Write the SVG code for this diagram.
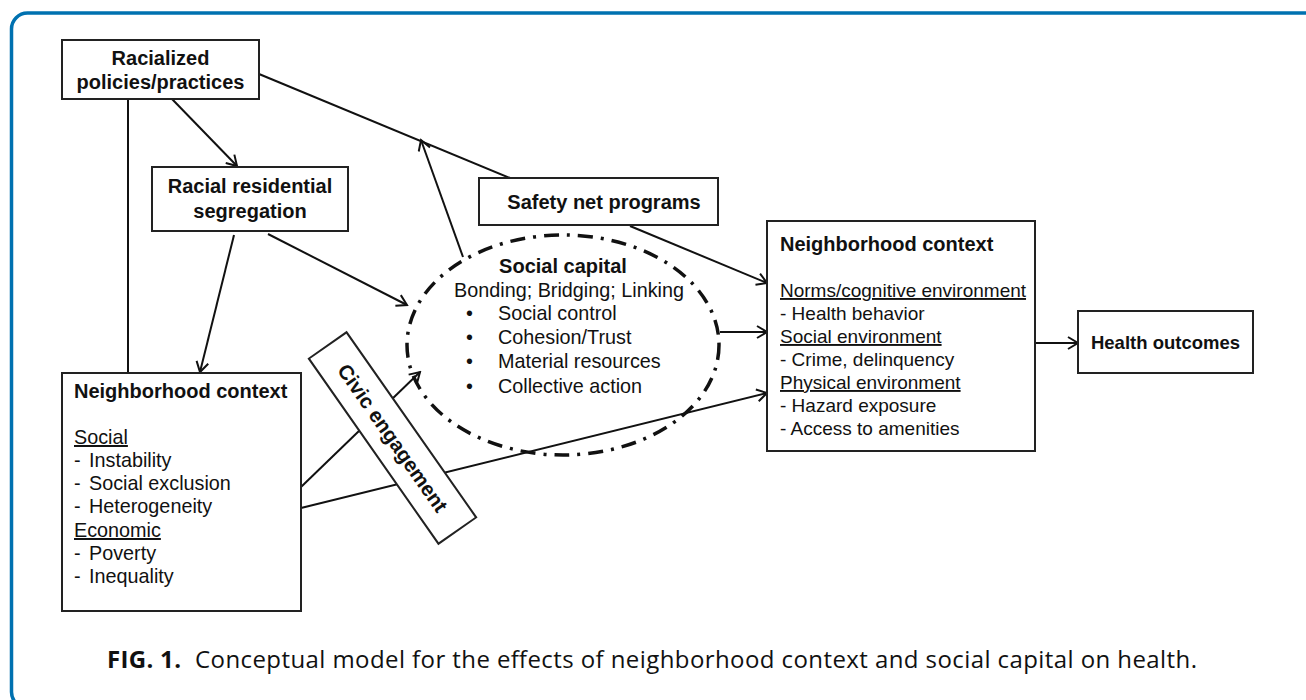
<svg xmlns="http://www.w3.org/2000/svg" width="1306" height="700" viewBox="0 0 1306 700">
<style>
.box{fill:#fff;stroke:#222;stroke-width:2}
.b{font-family:"Liberation Sans",Arial,sans-serif;font-weight:bold;font-size:20px;fill:#111}
.r{font-family:"Liberation Sans",Arial,sans-serif;font-size:19.8px;fill:#111}
.r19{font-size:19px}
.u{text-decoration:underline}
.c{stroke:#111;stroke-width:2;fill:none}
.a{marker-end:url(#arr)}
.cap{font-family:"Open Sans","Noto Sans",sans-serif;font-size:24px;fill:#111}
</style>
<defs>
<marker id="arr" markerUnits="userSpaceOnUse" markerWidth="14" markerHeight="14" viewBox="0 0 14 14" refX="12" refY="7" orient="auto">
<path d="M2,1 L12,7 L2,13" fill="none" stroke="#111" stroke-width="2"/>
</marker>
</defs>
<rect x="11.5" y="13" width="1310" height="695" rx="16" fill="none" stroke="#0071b0" stroke-width="3.5"/>

<g id="connectors">
<line class="c" x1="128" y1="99" x2="128" y2="373"/>
<line class="c a" x1="172" y1="99" x2="237" y2="166"/>
<line class="c a" x1="234" y1="235" x2="200" y2="372"/>
<line class="c a" x1="268" y1="234" x2="407" y2="305"/>
<line class="c" x1="259" y1="74" x2="510" y2="178"/>
<line class="c a" x1="463" y1="257" x2="421" y2="140"/>
<line class="c a" x1="630" y1="226" x2="767" y2="283"/>
<line class="c a" x1="720" y1="332" x2="767" y2="332"/>
<line class="c a" x1="301" y1="487" x2="420" y2="372"/>
<line class="c a" x1="301" y1="508" x2="767" y2="393"/>
<line class="c a" x1="1036" y1="343" x2="1078" y2="343"/>
</g>

<g id="racialized-policies">
<rect class="box" x="62" y="40" width="197" height="59"/>
<text class="b" x="160.5" y="65" text-anchor="middle">Racialized</text>
<text class="b" x="160.5" y="89" text-anchor="middle">policies/practices</text>
</g>

<g id="segregation">
<rect class="box" x="152" y="167" width="196" height="64"/>
<text class="b" x="250" y="193" text-anchor="middle">Racial residential</text>
<text class="b" x="250" y="218" text-anchor="middle">segregation</text>
</g>

<g id="safety-net">
<rect class="box" x="479" y="178" width="239" height="47"/>
<text class="b" x="604" y="209" text-anchor="middle">Safety net programs</text>
</g>

<g id="social-capital">
<ellipse cx="563" cy="345" rx="156" ry="110" fill="none" stroke="#111" stroke-width="3.5" stroke-dasharray="15 8 3 8"/>
<text class="b" x="563" y="273" text-anchor="middle">Social capital</text>
<text class="r" x="569" y="297" text-anchor="middle">Bonding; Bridging; Linking</text>
<g class="r">
<text x="466" y="320">•</text><text x="498" y="320">Social control</text>
<text x="466" y="344">•</text><text x="498" y="344">Cohesion/Trust</text>
<text x="466" y="368">•</text><text x="498" y="368">Material resources</text>
<text x="466" y="393">•</text><text x="498" y="393">Collective action</text>
</g>
</g>

<g id="neighborhood-left">
<rect class="box" x="62" y="373" width="239" height="238"/>
<text class="b" x="74" y="398">Neighborhood context</text>
<g class="r">
<text class="u" x="74" y="444">Social</text>
<text x="74" y="467">-<tspan x="89">Instability</tspan></text>
<text x="74" y="490">-<tspan x="89">Social exclusion</tspan></text>
<text x="74" y="513">-<tspan x="89">Heterogeneity</tspan></text>
<text class="u" x="74" y="537">Economic</text>
<text x="74" y="560">-<tspan x="89">Poverty</tspan></text>
<text x="74" y="583">-<tspan x="89">Inequality</tspan></text>
</g>
</g>

<g id="civic-engagement" transform="translate(392.5,438) rotate(55)">
<rect class="box" x="-113" y="-23" width="226" height="46"/>
<text class="b" x="0" y="7" text-anchor="middle" style="font-size:20.5px">Civic engagement</text>
</g>

<g id="neighborhood-right">
<rect class="box" x="767" y="221" width="268" height="230"/>
<text class="b" x="780" y="251">Neighborhood context</text>
<g class="r" style="font-size:19px">
<text class="u" x="780" y="297">Norms/cognitive environment</text>
<text x="780" y="320">- Health behavior</text>
<text class="u" x="780" y="343">Social environment</text>
<text x="780" y="366">- Crime, delinquency</text>
<text class="u" x="780" y="389">Physical environment</text>
<text x="780" y="412">- Hazard exposure</text>
<text x="780" y="435">- Access to amenities</text>
</g>
</g>

<g id="health-outcomes">
<rect class="box" x="1078" y="311" width="175" height="62"/>
<text class="b" x="1165.5" y="349" text-anchor="middle" style="font-size:18.5px">Health outcomes</text>
</g>

<g id="caption">
<text class="cap" x="107" y="668" font-weight="bold" textLength="74" lengthAdjust="spacing">FIG. 1.</text>
<text class="cap" x="195" y="668" textLength="1002" lengthAdjust="spacing">Conceptual model for the effects of neighborhood context and social capital on health.</text>
</g>
</svg>
